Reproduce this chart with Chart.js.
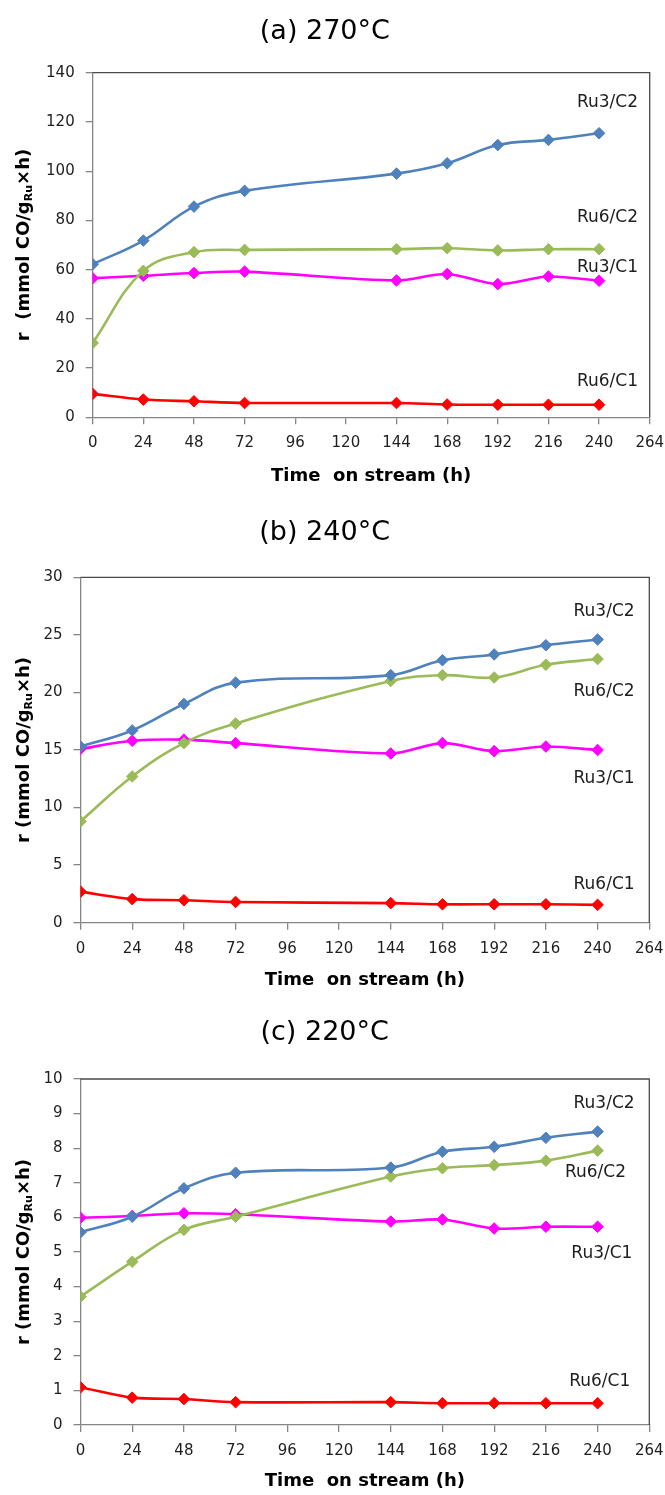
<!DOCTYPE html>
<html>
<head>
<meta charset="utf-8">
<script src="https://cdn.jsdelivr.net/npm/chart.js@4/dist/chart.umd.min.js"></script>
<style>
  html, body { margin: 0; padding: 0; background: #ffffff; }
  #page { position: relative; width: 665px; height: 1495px; }
  .panel { position: absolute; left: 0; width: 665px; }
  .panel canvas { display: block; }
</style>
</head>
<body>
<div id="page">
  <div class="panel" style="top:0px;height:497px;"><canvas id="chartA" width="665" height="497"></canvas></div>
  <div class="panel" style="top:497px;height:500px;"><canvas id="chartB" width="665" height="500"></canvas></div>
  <div class="panel" style="top:997px;height:498px;"><canvas id="chartC" width="665" height="498"></canvas></div>
</div>
<script>
// time on stream (h)
const hours = [0, 24, 48, 72, 144, 168, 192, 216, 240];
const xTickStep = 24;
const xMax = 264;

const seriesNames = ['Ru3/C2', 'Ru6/C2', 'Ru3/C1', 'Ru6/C1'];

// (a) 270°C
const a_Ru3C2 = [62.2, 71.8, 85.6, 92.0, 99.0, 103.2, 110.6, 112.7, 115.4];
const a_Ru6C2 = [30.2, 59.5, 67.1, 68.0, 68.3, 68.7, 67.8, 68.3, 68.3];
const a_Ru3C1 = [56.5, 57.5, 58.6, 59.2, 55.6, 58.2, 54.1, 57.2, 55.5];
const a_Ru6C1 = [9.5, 7.2, 6.5, 5.8, 5.8, 5.2, 5.1, 5.1, 5.1];

// (b) 240°C
const b_Ru3C2 = [15.3, 16.7, 19.0, 20.85, 21.5, 22.8, 23.3, 24.1, 24.6];
const b_Ru6C2 = [8.8, 12.7, 15.6, 17.3, 21.0, 21.5, 21.3, 22.4, 22.9];
const b_Ru3C1 = [15.1, 15.8, 15.9, 15.6, 14.7, 15.6, 14.9, 15.3, 15.0];
const b_Ru6C1 = [2.7, 2.05, 1.95, 1.8, 1.7, 1.6, 1.6, 1.6, 1.55];

// (c) 220°C
const c_Ru3C2 = [5.57, 6.02, 6.84, 7.29, 7.44, 7.9, 8.04, 8.3, 8.48];
const c_Ru6C2 = [3.71, 4.72, 5.64, 6.02, 7.18, 7.42, 7.51, 7.64, 7.93];
const c_Ru3C1 = [5.99, 6.04, 6.12, 6.09, 5.88, 5.94, 5.68, 5.73, 5.73];
const c_Ru6C1 = [1.09, 0.79, 0.75, 0.66, 0.66, 0.63, 0.63, 0.63, 0.63];

// series label anchors (data units: hour, rate)
const a_labelX = [244, 244, 244, 244];
const a_labelY = [127.7, 81, 60.7, 14.4];
const b_labelX = [243, 243, 243, 243];
const b_labelY = [27.0, 20.1, 12.5, 3.3];
const c_labelX = [243, 239, 242, 241];
const c_labelY = [9.3, 7.3, 4.94, 1.25];

const seriesColors = ['#4f81bd', '#9bbb59', '#ff00ff', '#ff0000'];
const seriesTension = [0.4, 0.4, 0.3, 0.3];

const FONT = 'DejaVu Sans';
const axisGray = '#868686';
const textColor = '#1e1e1e';

function toPoints(values) {
  return values.map((v, i) => ({ x: hours[i], y: v }));
}

// top + right frame of plot area
const frameLines = {
  id: 'frameLines',
  afterDraw(chart) {
    const { ctx, chartArea } = chart;
    ctx.save();
    ctx.strokeStyle = '#4a4a4a';
    ctx.lineWidth = 1.3;
    ctx.beginPath();
    ctx.moveTo(chartArea.left, chartArea.top);
    ctx.lineTo(chartArea.right, chartArea.top);
    ctx.lineTo(chartArea.right, chartArea.bottom);
    ctx.stroke();
    ctx.restore();
  }
};

// series name labels at the right
const seriesLabels = {
  id: 'seriesLabels',
  afterDatasetsDraw(chart, args, opts) {
    const { ctx, scales } = chart;
    ctx.save();
    ctx.font = '17px "' + FONT + '"';
    ctx.fillStyle = textColor;
    ctx.textAlign = 'center';
    ctx.textBaseline = 'middle';
    opts.names.forEach((name, i) => {
      ctx.fillText(name, scales.x.getPixelForValue(opts.xs[i]), scales.y.getPixelForValue(opts.ys[i]));
    });
    ctx.restore();
  }
};

// rotated y title with subscript "Ru"
const yTitle = {
  id: 'yTitle',
  afterDraw(chart, args, opts) {
    const { ctx, chartArea } = chart;
    const parts = [
      { t: opts.prefix, size: 18, dy: 0 },
      { t: 'Ru', size: 11, dy: 5 },
      { t: '\u00d7h)', size: 18, dy: 0 }
    ];
    ctx.save();
    ctx.fillStyle = '#000000';
    ctx.textBaseline = 'middle';
    ctx.textAlign = 'left';
    let total = 0;
    parts.forEach(p => {
      ctx.font = 'bold ' + p.size + 'px "' + FONT + '"';
      p.w = ctx.measureText(p.t).width;
      total += p.w;
    });
    ctx.translate(opts.x, (chartArea.top + chartArea.bottom) / 2);
    ctx.rotate(-Math.PI / 2);
    let cx = -total / 2;
    parts.forEach(p => {
      ctx.font = 'bold ' + p.size + 'px "' + FONT + '"';
      ctx.fillText(p.t, cx, p.dy);
      cx += p.w;
    });
    ctx.restore();
  }
};

function makePanel(canvasId, cfg) {
  const ctx = document.getElementById(canvasId).getContext('2d');
  const canvasH = ctx.canvas.height;
  const datasets = cfg.series.map((vals, i) => ({
    label: seriesNames[i],
    data: toPoints(vals),
    borderColor: seriesColors[i],
    backgroundColor: seriesColors[i],
    borderWidth: 2.6,
    tension: seriesTension[i],
    pointStyle: 'rectRot',
    pointRadius: 5.8,
    pointBorderWidth: 1,
    pointBorderColor: seriesColors[i],
    pointBackgroundColor: seriesColors[i],
    order: i,
    fill: false
  }));

  return new Chart(ctx, {
    type: 'line',
    data: { datasets: datasets },
    plugins: [frameLines, seriesLabels, yTitle],
    options: {
      responsive: false,
      animation: false,
      layout: { padding: { left: 0, right: cfg.right, top: 0, bottom: 0 } },
      plugins: {
        legend: { display: false },
        tooltip: { enabled: false },
        title: {
          display: true,
          text: cfg.title,
          color: '#000000',
          font: { family: FONT, size: 27, weight: 'normal', lineHeight: 1.2 },
          padding: { top: cfg.titleTop, bottom: cfg.titleBottom }
        },
        seriesLabels: { names: seriesNames, xs: cfg.labelX, ys: cfg.labelY },
        yTitle: { prefix: cfg.yPrefix, x: 24 }
      },
      scales: {
        x: {
          type: 'linear',
          min: 0,
          max: xMax,
          afterFit(scale) {
            scale.height = canvasH - cfg.plotBottom;
            // let the layout padding alone decide the plot edges
            scale.paddingLeft = 0;
            scale.paddingRight = 0;
          },
          ticks: {
            stepSize: xTickStep,
            color: textColor,
            padding: 10,
            maxRotation: 0,
            font: { family: FONT, size: 15 }
          },
          grid: { display: true, drawOnChartArea: false, drawTicks: true, tickLength: 7, color: axisGray, lineWidth: 1.3 },
          border: { display: true, color: axisGray, width: 1.3 },
          title: {
            display: true,
            text: 'Time  on stream (h)',
            color: '#000000',
            font: { family: FONT, size: 18, weight: 'bold', lineHeight: 1.2 },
            padding: { top: 0, bottom: cfg.xTitleBottom }
          }
        },
        y: {
          min: 0,
          max: cfg.yMax,
          afterFit(scale) { scale.width = cfg.plotLeft; },
          ticks: {
            stepSize: cfg.yStep,
            color: textColor,
            padding: 11,
            font: { family: FONT, size: 15 }
          },
          grid: { display: true, drawOnChartArea: false, drawTicks: true, tickLength: 7, color: axisGray, lineWidth: 1.3 },
          border: { display: true, color: axisGray, width: 1.3 }
        }
      }
    }
  });
}

makePanel('chartA', {
  title: '(a) 270\u00b0C',
  series: [a_Ru3C2, a_Ru6C2, a_Ru3C1, a_Ru6C1],
  labelX: a_labelX, labelY: a_labelY,
  yMax: 140, yStep: 20,
  yPrefix: 'r  (mmol CO/g',
  plotLeft: 92.7, right: 15.3, plotBottom: 417.3,
  titleTop: 15.8, titleBottom: 24.5,
  xTitleBottom: 10
});

makePanel('chartB', {
  title: '(b) 240\u00b0C',
  series: [b_Ru3C2, b_Ru6C2, b_Ru3C1, b_Ru6C1],
  labelX: b_labelX, labelY: b_labelY,
  yMax: 30, yStep: 5,
  yPrefix: 'r (mmol CO/g',
  plotLeft: 80.5, right: 15.7, plotBottom: 425.7,
  titleTop: 19.8, titleBottom: 28.1,
  xTitleBottom: 6
});

makePanel('chartC', {
  title: '(c) 220\u00b0C',
  series: [c_Ru3C2, c_Ru6C2, c_Ru3C1, c_Ru6C1],
  labelX: c_labelX, labelY: c_labelY,
  yMax: 10, yStep: 1,
  yPrefix: 'r (mmol CO/g',
  plotLeft: 80.5, right: 15.7, plotBottom: 428,
  titleTop: 19.8, titleBottom: 29.8,
  xTitleBottom: 2.5
});
</script>
</body>
</html>
